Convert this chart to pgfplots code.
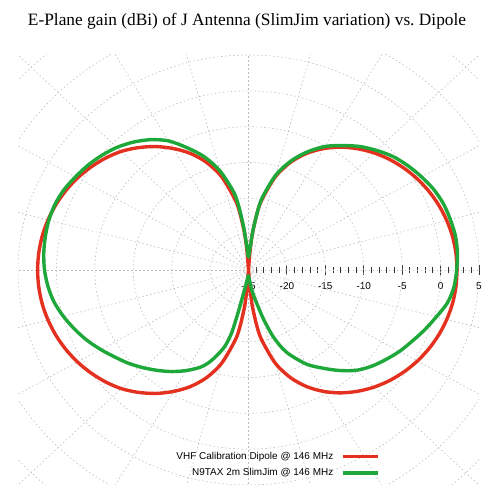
\documentclass[border=0pt]{standalone}
\usepackage{fontspec}
\setmainfont{Liberation Sans}
\newfontfamily\titlefont{Liberation Serif}
\usepackage{pgfplots}
\pgfplotsset{compat=1.18}
\usepackage{pgfplotstable}

\definecolor{cred}{RGB}{228,48,30}
\definecolor{cgreen}{RGB}{30,168,58}
\definecolor{cgrid}{RGB}{190,190,190}

% angle (deg), gain (dBi); radial axis from -25 dBi (centre) to 5 dBi
\pgfplotstableread{
a g
0 2.15
5 2.10
10 1.96
15 1.71
20 1.37
25 0.93
30 0.39
35 -0.26
40 -1.01
45 -1.89
50 -2.91
55 -4.07
60 -5.43
65 -7.04
70 -9.01
75 -11.55
80 -15.08
82 -17.04
84 -19.54
85 -21.10
86 -23.07
87 -25
90 -25
93 -25
94 -23.07
95 -21.10
96 -19.54
98 -17.04
100 -15.08
105 -11.55
110 -9.01
115 -7.04
120 -5.43
125 -3.97
130 -2.71
135 -1.59
140 -0.71
145 0.04
150 0.69
155 1.23
160 1.67
165 2.01
170 2.26
175 2.40
180 2.45
185 2.40
190 2.26
195 2.01
200 1.67
205 1.23
210 0.69
215 0.04
220 -0.71
225 -1.59
230 -2.71
235 -3.97
240 -5.43
245 -7.04
250 -9.01
255 -11.55
260 -15.08
262 -17.04
264 -19.54
265 -21.10
266 -23.07
267 -25
273 -25
274 -23.07
275 -21.10
276 -19.54
278 -17.04
280 -15.08
285 -11.55
290 -9.01
295 -7.04
300 -5.43
305 -4.07
310 -2.91
315 -1.89
320 -1.01
325 -0.26
330 0.39
335 0.93
340 1.37
345 1.71
350 1.96
355 2.10
360 2.15
}\dipole

\pgfplotstableread{
a g
0 2.1
5 2.3
10 2.35
15 2.2
20 2.0
25 1.6
30 1.0
35 0.35
40 -0.4
45 -1.4
50 -2.5
55 -3.8
60 -5.1
65 -6.8
70 -8.8
75 -11.3
80 -14.8
82 -17.0
84 -19.5
86 -21.8
88 -22.8
90 -23.2
92 -22.8
94 -21.5
96 -19.0
98 -16.2
100 -14.0
105 -10.7
110 -8.2
115 -6.2
120 -4.2
125 -2.8
130 -1.7
135 -0.8
140 -0.1
145 0.5
150 1.0
155 1.5
160 1.8
165 1.9
170 1.85
175 1.75
180 1.55
185 1.2
190 0.7
195 -0.05
200 -0.9
205 -1.8
210 -2.8
215 -3.8
220 -4.7
225 -5.7
230 -6.7
235 -7.7
240 -8.8
245 -10.0
248 -11.0
251 -12.4
254 -14.0
256 -16.0
257 -18.5
258 -20.5
260 -22.5
263 -23.7
267 -24.2
270 -24.2
274 -23.8
278 -22.5
281 -21.2
283 -20.2
286 -17.8
289 -15.2
292 -13.2
295 -11.8
300 -9.8
305 -8.3
310 -6.7
315 -5.2
320 -4.1
325 -3.2
330 -2.3
335 -1.5
340 -0.6
345 0.3
350 1.3
355 1.85
360 2.1
}\slimjim

\begin{document}
\begin{tikzpicture}
\path[use as bounding box] (0,0) rectangle (500bp,500bp);
\node[font=\titlefont\fontsize{17.4}{20}\selectfont, anchor=base, inner sep=0pt] at (247bp,474.5bp)
  {E-Plane gain (dBi) of J Antenna (SlimJim variation) vs.\ Dipole};
\begin{axis}[
  at={(18bp,15bp)}, anchor=south west,
  scale only axis, width=461bp, height=430bp,
  xmin=-30, xmax=30, ymin=-30, ymax=30,
  axis x line=middle, axis y line=none,
  x axis line style={draw=none},
  hide obscured x ticks=false,
  xtick={0,5,10,15,20,25,30},
  xticklabels={-25,-20,-15,-10,-5,0,5},
  minor xtick={1,2,3,4,6,7,8,9,11,12,13,14,16,17,18,19,21,22,23,24,26,27,28,29},
  ytick=\empty,
  xtick align=center,
  major tick length=9bp, minor tick length=5bp,
  every tick/.style={black!80, line width=0.9bp},
  xticklabel style={font=\fontsize{10}{12}\selectfont, anchor=north, inner sep=1bp, yshift=-7bp},
  legend plot pos=right,
  legend cell align=right,
  legend style={draw=none, fill=none, at={(axis description cs:0.785,0.0125)}, anchor=south east,
    font=\fontsize{10}{12}\selectfont, inner sep=0pt, row sep=4bp,
    /tikz/every odd column/.append style={column sep=6bp}},
  legend image code/.code={\draw[#1] (0bp,0bp) -- (35bp,0bp);},
]
\pgfplotsinvokeforeach{5,10,15,20,25,30,35,40,45}{
  \draw[cgrid, line width=0.6bp, dash pattern=on 1.5bp off 2.5bp] (axis cs:0,0) ellipse [x radius=#1, y radius=#1];
}
\pgfplotsinvokeforeach{0,15,30,45,60,75,90,105,120,135,150,165,180,195,210,225,240,255,270,285,300,315,330,345}{
  \draw[cgrid, line width=0.6bp, dash pattern=on 1.5bp off 2.5bp] (axis cs:0,0) -- (axis cs:{60*cos(#1)},{60*sin(#1)});
}
\addplot[cred, line width=3.4bp, line join=round, smooth, tension=0.5] table[
  x expr={(\thisrow{g}+25)*cos(\thisrow{a})},
  y expr={(\thisrow{g}+25)*sin(\thisrow{a})}] {\dipole};
\addlegendentry{VHF Calibration Dipole @ 146 MHz}
\addplot[cgreen, line width=3.4bp, line join=round, smooth, tension=0.5] table[
  x expr={(\thisrow{g}+25)*cos(\thisrow{a})},
  y expr={(\thisrow{g}+25)*sin(\thisrow{a})}] {\slimjim};
\addlegendentry{N9TAX 2m SlimJim @ 146 MHz}
\end{axis}
\end{tikzpicture}
\end{document}
